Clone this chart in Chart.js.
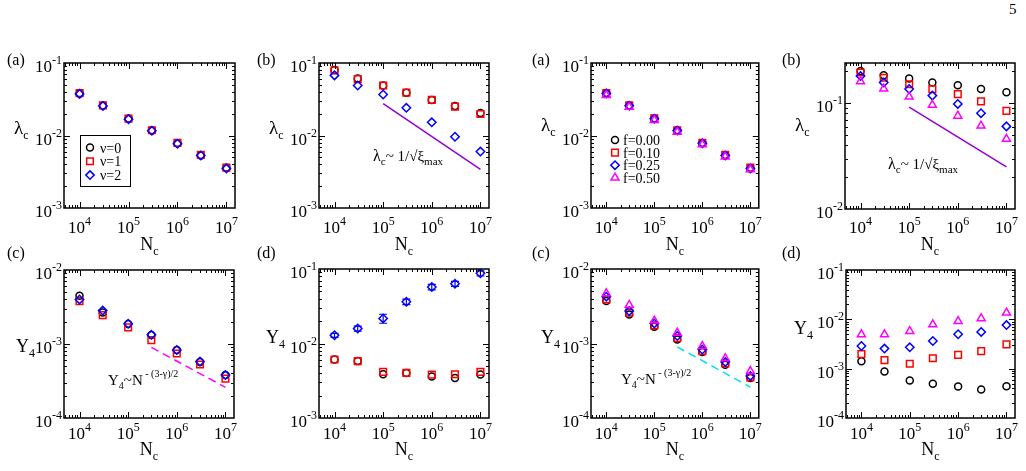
<!DOCTYPE html>
<html lang="en">
<head>
<meta charset="UTF-8">
<title>lambda_c and Y4 versus N_c</title>
<script src="https://cdn.jsdelivr.net/npm/chart.js"></script>
<style>
  body { margin: 0; background: #fff; width: 1026px; height: 471px; position: relative; overflow: hidden; }
  canvas { position: absolute; }
  #page { position: absolute; left: 1009px; top: 1px; font: 15px 'Liberation Serif', 'DejaVu Serif', serif; }
</style>
</head>
<body>
<div id="page">5</div>
<canvas id="p1"></canvas>
<canvas id="p2"></canvas>
<canvas id="p3"></canvas>
<canvas id="p4"></canvas>
<canvas id="p5"></canvas>
<canvas id="p6"></canvas>
<canvas id="p7"></canvas>
<canvas id="p8"></canvas>
<script>
// system sizes
const N = [1e4, 3e4, 1e5, 3e5, 1e6, 3e6, 1e7];
const xTickExps = [4, 5, 6, 7];

// left half, nu = 0,1,2
const lamA_nu0 = [0.038, 0.026, 0.0171, 0.0117, 0.0078, 0.0053, 0.0036];
const lamA_nu1 = [0.0385, 0.026, 0.0171, 0.0118, 0.0079, 0.0054, 0.0036];
const lamA_nu2 = [0.0375, 0.0255, 0.0168, 0.0116, 0.0077, 0.0053, 0.0035];
const lamB_nu0 = [0.080, 0.061, 0.049, 0.039, 0.031, 0.0255, 0.0205];
const lamB_nu1 = [0.079, 0.060, 0.049, 0.039, 0.031, 0.0250, 0.0198];
const lamB_nu2 = [0.0675, 0.049, 0.0368, 0.0241, 0.0152, 0.0096, 0.0060];
const y4C_nu0 = [0.00449, 0.00267, 0.00186, 0.00132, 0.00083, 0.00057, 0.00038];
const y4C_nu1 = [0.0038, 0.00246, 0.00168, 0.00113, 0.000745, 0.000528, 0.000341];
const y4C_nu2 = [0.0040, 0.00283, 0.00188, 0.00133, 0.00083, 0.00058, 0.00038];
const y4D_nu0 = [0.0061, 0.0058, 0.00387, 0.00403, 0.0036, 0.00345, 0.00383];
const y4D_nu1 = [0.0061, 0.0058, 0.00416, 0.00403, 0.00383, 0.00387, 0.00416];
const y4D_nu2 = [0.0129, 0.0159, 0.0217, 0.0363, 0.0573, 0.0634, 0.0875];
const y4D_nu2_err = [0.0008, 0.0012, 0.003, 0.003, 0.005, 0.005, 0.007];

// right half, f = 0.00 .. 0.50
const lamA_f000 = [0.0385, 0.026, 0.0171, 0.0117, 0.0078, 0.0053, 0.0035];
const lamA_f010 = [0.0385, 0.026, 0.0172, 0.0118, 0.0079, 0.0054, 0.0036];
const lamA_f025 = [0.038, 0.0258, 0.0170, 0.0117, 0.0078, 0.0053, 0.0035];
const lamA_f050 = [0.036, 0.0248, 0.0163, 0.0112, 0.0075, 0.0051, 0.0034];
const lamB_f000 = [0.202, 0.184, 0.171, 0.157, 0.148, 0.136, 0.127];
const lamB_f010 = [0.195, 0.174, 0.151, 0.136, 0.122, 0.104, 0.0847];
const lamB_f025 = [0.181, 0.157, 0.136, 0.118, 0.0985, 0.0805, 0.0604];
const lamB_f050 = [0.161, 0.137, 0.115, 0.0964, 0.076, 0.0612, 0.046];
const y4C_f000 = [0.00371, 0.00246, 0.00168, 0.00113, 0.00077, 0.00052, 0.000345];
const y4C_f010 = [0.0039, 0.0026, 0.00175, 0.00118, 0.00079, 0.00054, 0.00035];
const y4C_f025 = [0.00425, 0.00272, 0.00186, 0.00126, 0.00083, 0.000566, 0.000367];
const y4C_f050 = [0.00471, 0.00328, 0.00202, 0.00139, 0.00092, 0.00063, 0.000425];
const y4D_f000 = [0.00142, 0.000875, 0.000575, 0.000492, 0.000434, 0.000377, 0.00044];
const y4D_f010 = [0.00197, 0.00149, 0.00126, 0.00163, 0.00191, 0.00227, 0.0031];
const y4D_f025 = [0.00288, 0.00255, 0.00271, 0.00364, 0.00498, 0.00555, 0.00764];
const y4D_f050 = [0.00494, 0.00494, 0.00577, 0.00789, 0.0092, 0.01045, 0.0136];

// guide lines
const lawB_x = [1e5, 1e7];
const lawB_nu = [0.0275, 0.0034];
const lawB_f = [0.092, 0.025];
const lawC_x = [3e5, 1e7];
const lawC_y = [0.0009, 0.00026];

const X_MIN = 4800, X_MAX = 1.5e7;
const SERIF = "'Liberation Serif', 'DejaVu Serif', serif";

const STY = {
  circ: { ps: 'circle', c: '#000000', r: 3.5 },
  sq: { ps: 'rect', c: '#ff0000', r: 4.7 },
  dia: { ps: 'rectRot', c: '#0000ff', r: 4.2 },
  tri: { ps: 'triangle', c: '#ff00ff', r: 4.6 }
};

function pts(xs, ys) { return xs.map((x, i) => ({ x: x, y: ys[i] })); }

function series(label, ys, sty, order, errs) {
  const s = STY[sty];
  return {
    label: label, data: pts(N, ys), showLine: false, order: order,
    pointStyle: s.ps, pointRadius: s.r, pointBorderWidth: 1.5,
    borderColor: s.c, backgroundColor: 'rgba(0,0,0,0)',
    pointBorderColor: s.c, pointBackgroundColor: 'rgba(0,0,0,0)',
    errs: errs
  };
}

function law(xs, ys, color, dash) {
  return {
    label: '', data: pts(xs, ys), showLine: true, order: 0,
    borderColor: color, borderWidth: 1.5, borderDash: dash || [], pointRadius: 0
  };
}

// draw a run of text pieces: [text, size, dy]
function rich(ctx, x, y, segs, align) {
  let w = 0;
  segs.forEach(s => { ctx.font = s[1] + 'px ' + SERIF; w += ctx.measureText(s[0]).width; });
  let cx = align === 'right' ? x - w : align === 'center' ? x - w / 2 : x;
  ctx.textAlign = 'left';
  ctx.textBaseline = 'alphabetic';
  segs.forEach(s => {
    ctx.font = s[1] + 'px ' + SERIF;
    ctx.fillText(s[0], cx, y + (s[2] || 0));
    cx += ctx.measureText(s[0]).width;
  });
}

function symbol(ctx, sty, x, y) {
  const s = STY[sty];
  ctx.strokeStyle = s.c;
  ctx.lineWidth = 1.5;
  ctx.beginPath();
  if (s.ps === 'circle') {
    ctx.arc(x, y, s.r, 0, Math.PI * 2);
  } else if (s.ps === 'rect') {
    const h = s.r * Math.SQRT1_2;
    ctx.rect(x - h, y - h, 2 * h, 2 * h);
  } else if (s.ps === 'rectRot') {
    ctx.moveTo(x, y - s.r); ctx.lineTo(x + s.r, y); ctx.lineTo(x, y + s.r); ctx.lineTo(x - s.r, y); ctx.closePath();
  } else {
    for (let k = 0; k < 3; k++) {
      const a = k * 2 * Math.PI / 3;
      const px = x + Math.sin(a) * s.r, py = y - Math.cos(a) * s.r;
      if (k === 0) ctx.moveTo(px, py); else ctx.lineTo(px, py);
    }
    ctx.closePath();
  }
  ctx.stroke();
}

const LAYOUT = {};

const framePlugin = {
  id: 'frame',
  afterDatasetsDraw(chart) {
    const L = LAYOUT[chart.canvas.id];
    const ctx = chart.ctx, a = chart.chartArea;
    const xs = chart.scales.x, ys = chart.scales.y;
    const ox = L.cell.x, oy = L.cell.y;
    ctx.save();

    // error bars
    chart.data.datasets.forEach(ds => {
      if (!ds.errs) return;
      ctx.strokeStyle = ds.borderColor;
      ctx.lineWidth = 1.2;
      ds.data.forEach((p, i) => {
        const px = xs.getPixelForValue(p.x);
        const y1 = ys.getPixelForValue(p.y + ds.errs[i]);
        const y2 = ys.getPixelForValue(p.y - ds.errs[i]);
        ctx.beginPath();
        ctx.moveTo(px, y1); ctx.lineTo(px, y2);
        ctx.moveTo(px - 4, y1); ctx.lineTo(px + 4, y1);
        ctx.moveTo(px - 4, y2); ctx.lineTo(px + 4, y2);
        ctx.stroke();
      });
    });

    // frame
    ctx.strokeStyle = '#000';
    ctx.lineWidth = 1.5;
    ctx.strokeRect(a.left, a.top, a.width, a.height);

    // ticks, all four sides, pointing in
    ctx.lineWidth = 1;
    ctx.beginPath();
    for (let e = 3; e <= 7; e++) {
      for (let m = 1; m <= 9; m++) {
        const v = m * Math.pow(10, e);
        if (v <= xs.min || v >= xs.max) continue;
        const px = Math.round(xs.getPixelForValue(v)) + 0.5;
        const len = m === 1 ? 6 : 3;
        ctx.moveTo(px, a.bottom); ctx.lineTo(px, a.bottom - len);
        ctx.moveTo(px, a.top); ctx.lineTo(px, a.top + len);
      }
    }
    const e0 = Math.floor(Math.log10(ys.min)), e1 = Math.ceil(Math.log10(ys.max));
    for (let e = e0; e <= e1; e++) {
      for (let m = 1; m <= 9; m++) {
        const v = m * Math.pow(10, e);
        if (v <= ys.min * 1.0001 || v >= ys.max * 0.9999) continue;
        const py = Math.round(ys.getPixelForValue(v)) + 0.5;
        const len = m === 1 ? 6 : 3;
        ctx.moveTo(a.left, py); ctx.lineTo(a.left + len, py);
        ctx.moveTo(a.right, py); ctx.lineTo(a.right - len, py);
      }
    }
    ctx.stroke();

    ctx.fillStyle = '#000';
    // tick labels
    xTickExps.forEach(e => {
      const px = xs.getPixelForValue(Math.pow(10, e));
      rich(ctx, px, a.bottom + L.xLab, [['10', 17, 0], [String(e), 12, -8]], 'center');
    });
    L.yExps.forEach(e => {
      const py = ys.getPixelForValue(Math.pow(10, e));
      rich(ctx, a.left - 2, py + 9, [['10', 17, 0], [String(e), 12, -8]], 'right');
    });

    // axis titles
    rich(ctx, (a.left + a.right) / 2, L.xTitle - oy, [['N', 18, 0], ['c', 12, 5]], 'center');
    rich(ctx, L.yTitle.x - ox, L.yTitle.y - oy, L.yTitle.segs, 'left');

    // panel letter
    rich(ctx, L.letter.x - ox, L.letter.y - oy, [[L.letter.t, 16, 0]], 'left');

    // notes
    (L.notes || []).forEach(n => rich(ctx, n.x - ox, n.y - oy, n.segs, 'left'));

    // legend
    if (L.legend) {
      const g = L.legend;
      if (g.box) {
        ctx.strokeStyle = '#000';
        ctx.lineWidth = 1;
        ctx.strokeRect(g.box[0] - ox + 0.5, g.box[1] - oy + 0.5, g.box[2] - g.box[0], g.box[3] - g.box[1]);
      }
      g.items.forEach((it, i) => {
        const y = g.y + i * g.dy - oy;
        symbol(ctx, it[0], g.x - ox, y);
        ctx.fillStyle = '#000';
        rich(ctx, g.tx - ox, y + 5, [[it[1], 14, 0]], 'left');
      });
    }
    ctx.restore();
  }
};

function makePanel(id, L, datasets) {
  LAYOUT[id] = L;
  const c = document.getElementById(id);
  c.width = L.cell.w; c.height = L.cell.h;
  c.style.left = L.cell.x + 'px'; c.style.top = L.cell.y + 'px';
  const pad = {
    left: L.box.l - L.cell.x, top: L.box.t - L.cell.y,
    right: L.cell.x + L.cell.w - L.box.r, bottom: L.cell.y + L.cell.h - L.box.b
  };
  new Chart(c, {
    type: 'scatter',
    data: { datasets: datasets },
    options: {
      responsive: false, animation: false, devicePixelRatio: 1,
      layout: { padding: pad },
      scales: {
        x: { type: 'logarithmic', min: X_MIN, max: X_MAX, bounds: 'data', display: false },
        y: { type: 'logarithmic', min: L.yRange[0], max: L.yRange[1], bounds: 'data', display: false }
      },
      plugins: { legend: { display: false }, tooltip: { enabled: false } }
    },
    plugins: [framePlugin]
  });
}

const LAM = [['λ', 19, 0], ['c', 12, 5]];
const Y4 = [['Y', 18, 0], ['4', 12, 5]];
const NOTE_LAM = [['λ', 16, 0], ['c', 11, 4], ['~ 1/√ξ', 15, 0], ['max', 11, 4]];
const NOTE_Y4 = [['Y', 15, 0], ['4', 10, 4], ['~N', 15, 0], [' - (3-γ)/2', 10, -8]];

makePanel('p1', {
  cell: { x: 0, y: 40, w: 255, h: 215 }, box: { l: 64, t: 63, r: 235, b: 208 },
  yRange: [1e-3, 1e-1], yExps: [-1, -2, -3], xLab: 25, xTitle: 250,
  yTitle: { x: 14, y: 134, segs: LAM }, letter: { x: 7, y: 65, t: '(a)' },
  legend: { x: 90, tx: 100, y: 147.5, dy: 13.8, box: [80, 135, 130, 186],
    items: [['circ', 'ν=0'], ['sq', 'ν=1'], ['dia', 'ν=2']] }
}, [
  series('ν=0', lamA_nu0, 'circ', 4),
  series('ν=1', lamA_nu1, 'sq', 3),
  series('ν=2', lamA_nu2, 'dia', 2)
]);

makePanel('p2', {
  cell: { x: 255, y: 40, w: 255, h: 215 }, box: { l: 319, t: 63, r: 489, b: 208 },
  yRange: [1e-3, 1e-1], yExps: [-1, -2, -3], xLab: 25, xTitle: 250,
  yTitle: { x: 269, y: 134, segs: LAM }, letter: { x: 257, y: 65, t: '(b)' },
  notes: [{ x: 373, y: 161, segs: NOTE_LAM }]
}, [
  series('ν=0', lamB_nu0, 'circ', 4),
  series('ν=1', lamB_nu1, 'sq', 3),
  series('ν=2', lamB_nu2, 'dia', 2),
  law(lawB_x, lawB_nu, '#9400d3')
]);

makePanel('p3', {
  cell: { x: 510, y: 40, w: 255, h: 215 }, box: { l: 591, t: 63, r: 761, b: 208 },
  yRange: [1e-3, 1e-1], yExps: [-1, -2, -3], xLab: 25, xTitle: 250,
  yTitle: { x: 541, y: 131, segs: LAM }, letter: { x: 532, y: 65, t: '(a)' },
  legend: { x: 615, tx: 623, y: 140, dy: 12.6, box: null,
    items: [['circ', 'f=0.00'], ['sq', 'f=0.10'], ['dia', 'f=0.25'], ['tri', 'f=0.50']] }
}, [
  series('f=0.00', lamA_f000, 'circ', 4),
  series('f=0.10', lamA_f010, 'sq', 3),
  series('f=0.25', lamA_f025, 'dia', 2),
  series('f=0.50', lamA_f050, 'tri', 1)
]);

makePanel('p4', {
  cell: { x: 765, y: 40, w: 261, h: 215 }, box: { l: 845, t: 63, r: 1015, b: 209 },
  yRange: [1e-2, 0.24], yExps: [-1, -2], xLab: 24, xTitle: 250,
  yTitle: { x: 795, y: 131, segs: LAM }, letter: { x: 782, y: 65, t: '(b)' },
  notes: [{ x: 888, y: 169, segs: NOTE_LAM }]
}, [
  series('f=0.00', lamB_f000, 'circ', 4),
  series('f=0.10', lamB_f010, 'sq', 3),
  series('f=0.25', lamB_f025, 'dia', 2),
  series('f=0.50', lamB_f050, 'tri', 1),
  law(lawB_x, lawB_f, '#9400d3')
]);

makePanel('p5', {
  cell: { x: 0, y: 245, w: 255, h: 226 }, box: { l: 64, t: 270, r: 234, b: 418 },
  yRange: [1e-4, 1e-2], yExps: [-2, -3, -4], xLab: 21, xTitle: 455,
  yTitle: { x: 16, y: 352, segs: Y4 }, letter: { x: 7, y: 258, t: '(c)' },
  notes: [{ x: 108, y: 385, segs: NOTE_Y4 }]
}, [
  series('ν=0', y4C_nu0, 'circ', 4),
  series('ν=1', y4C_nu1, 'sq', 3),
  series('ν=2', y4C_nu2, 'dia', 2),
  law(lawC_x, lawC_y, '#ff00ff', [8, 5])
]);

makePanel('p6', {
  cell: { x: 255, y: 245, w: 255, h: 226 }, box: { l: 319, t: 269, r: 489, b: 418 },
  yRange: [1e-3, 1e-1], yExps: [-1, -2, -3], xLab: 21, xTitle: 455,
  yTitle: { x: 266, y: 343, segs: Y4 }, letter: { x: 257, y: 258, t: '(d)' }
}, [
  series('ν=0', y4D_nu0, 'circ', 4),
  series('ν=1', y4D_nu1, 'sq', 3),
  series('ν=2', y4D_nu2, 'dia', 2, y4D_nu2_err)
]);

makePanel('p7', {
  cell: { x: 510, y: 245, w: 255, h: 226 }, box: { l: 591, t: 269, r: 761, b: 418 },
  yRange: [1e-4, 1e-2], yExps: [-2, -3, -4], xLab: 21, xTitle: 455,
  yTitle: { x: 541, y: 343, segs: Y4 }, letter: { x: 532, y: 258, t: '(c)' },
  notes: [{ x: 621, y: 384, segs: NOTE_Y4 }]
}, [
  series('f=0.00', y4C_f000, 'circ', 4),
  series('f=0.10', y4C_f010, 'sq', 3),
  series('f=0.25', y4C_f025, 'dia', 2),
  series('f=0.50', y4C_f050, 'tri', 1),
  law(lawC_x, lawC_y, '#00e0f0', [8, 5])
]);

makePanel('p8', {
  cell: { x: 765, y: 245, w: 261, h: 226 }, box: { l: 846, t: 270, r: 1015, b: 418 },
  yRange: [1e-4, 1e-1], yExps: [-1, -2, -3, -4], xLab: 21, xTitle: 455,
  yTitle: { x: 794, y: 334, segs: Y4 }, letter: { x: 782, y: 258, t: '(d)' }
}, [
  series('f=0.00', y4D_f000, 'circ', 4),
  series('f=0.10', y4D_f010, 'sq', 3),
  series('f=0.25', y4D_f025, 'dia', 2),
  series('f=0.50', y4D_f050, 'tri', 1)
]);
</script>
</body>
</html>
